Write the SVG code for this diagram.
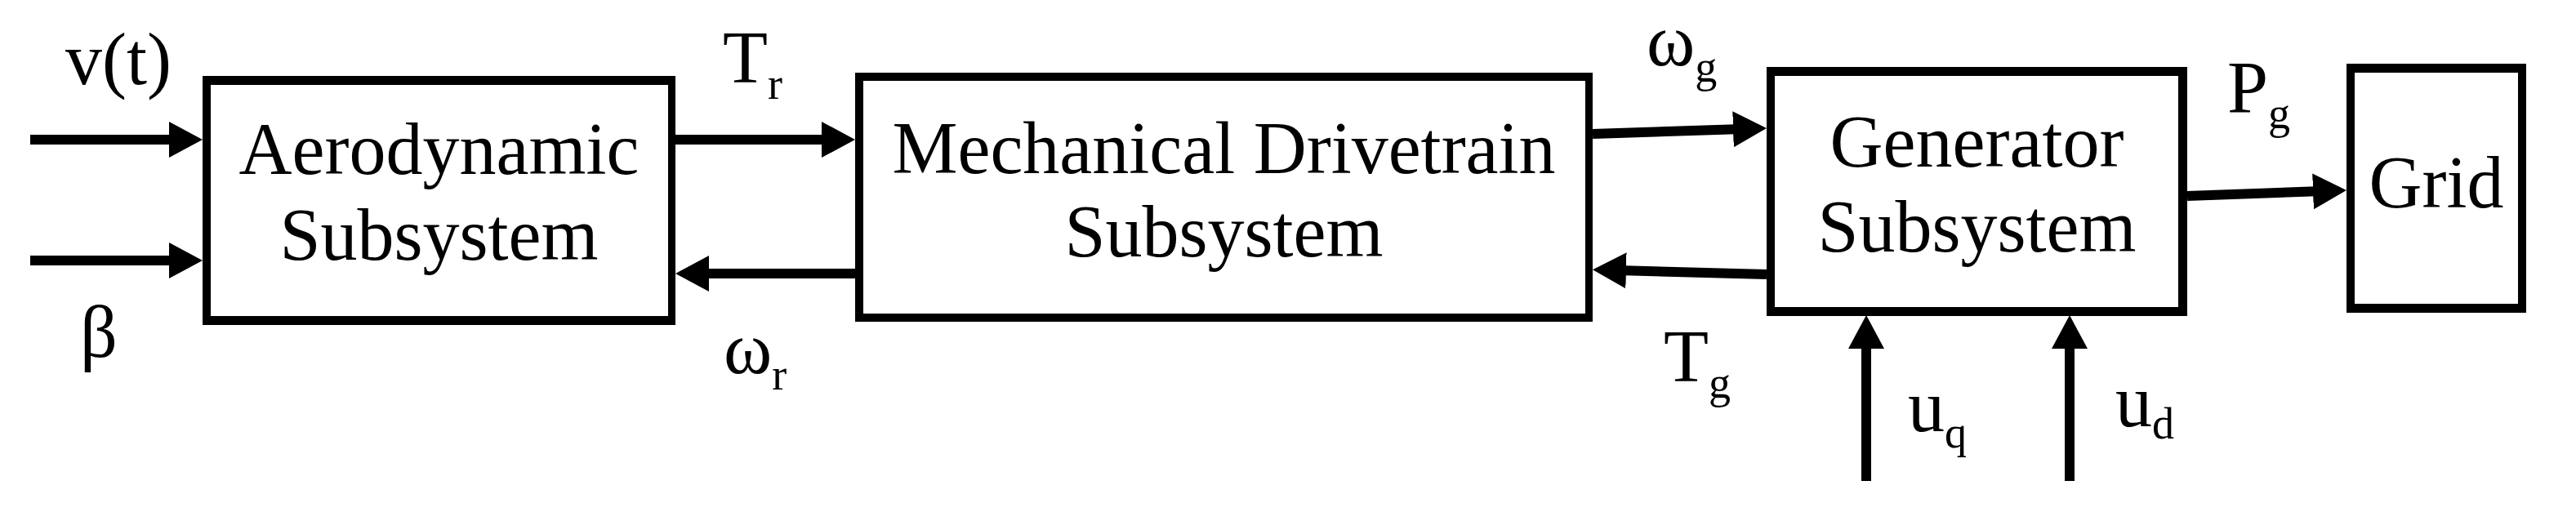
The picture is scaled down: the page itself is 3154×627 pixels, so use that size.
<svg xmlns="http://www.w3.org/2000/svg" width="3154" height="627" viewBox="0 0 3154 627">
<style>
.frame{fill:#000}
.inner{fill:#fff}
.t{font-family:"Liberation Serif","Times New Roman",serif;font-size:90px;fill:#000}
.c{text-anchor:middle}
.s{font-size:54px}
.ln{stroke:#000;stroke-width:12;fill:none;marker-end:url(#ah)}
</style>
<defs>
<marker id="ah" markerUnits="userSpaceOnUse" viewBox="0 -22 41 44" refX="11" refY="0" markerWidth="41" markerHeight="44" orient="auto">
<path d="M0,-22 L41,0 L0,22 z" fill="#000"/>
</marker>
</defs>
<rect width="3154" height="627" fill="#fff"/>
<g id="connectors">
<line class="ln" x1="37" y1="171" x2="218" y2="171"/>
<line class="ln" x1="37" y1="319" x2="218" y2="319"/>
<line class="ln" x1="827" y1="171" x2="1017" y2="171"/>
<line class="ln" x1="1047" y1="335" x2="857" y2="335"/>
<line class="ln" x1="1950" y1="164" x2="2133" y2="158"/>
<line class="ln" x1="2163" y1="336" x2="1980" y2="331"/>
<line class="ln" x1="2678" y1="240" x2="2843" y2="234"/>
<line class="ln" x1="2285" y1="589" x2="2285" y2="416"/>
<line class="ln" x1="2534" y1="589" x2="2534" y2="416"/>
</g>
<g id="aero">
<rect class="frame" x="248" y="93" width="579" height="305"/>
<rect class="inner" x="258" y="104" width="560" height="283"/>
<text class="t c" x="537.5" y="213">Aerodynamic</text>
<text class="t c" x="537.5" y="318">Subsystem</text>
</g>
<g id="mech">
<rect class="frame" x="1047" y="89" width="903" height="305"/>
<rect class="inner" x="1057" y="99" width="884" height="285"/>
<text class="t c" x="1498.5" y="212">Mechanical Drivetrain</text>
<text class="t c" x="1498.5" y="314">Subsystem</text>
</g>
<g id="gen">
<rect class="frame" x="2163" y="82" width="515" height="305"/>
<rect class="inner" x="2173" y="93" width="494" height="283"/>
<text class="t c" x="2420.5" y="204">Generator</text>
<text class="t c" x="2420.5" y="308">Subsystem</text>
</g>
<g id="grid">
<rect class="frame" x="2873" y="78" width="220" height="305"/>
<rect class="inner" x="2883" y="89" width="200" height="283"/>
<text class="t c" x="2983" y="254">Grid</text>
</g>
<g id="labels">
<text class="t" x="80" y="103">v(t)</text>
<text class="t" x="98" y="437">β</text>
<text class="t" x="885" y="101">T<tspan class="s" dy="20">r</tspan></text>
<text class="t" x="886" y="457">ω<tspan class="s" dy="20">r</tspan></text>
<text class="t" x="2016" y="80">ω<tspan class="s" dy="20">g</tspan></text>
<text class="t" x="2037" y="467">T<tspan class="s" dy="20">g</tspan></text>
<text class="t" x="2727" y="138">P<tspan class="s" dy="19">g</tspan></text>
<text class="t" x="2336" y="528">u<tspan class="s" dy="20">q</tspan></text>
<text class="t" x="2590" y="522">u<tspan class="s" dy="15">d</tspan></text>
</g>
</svg>
